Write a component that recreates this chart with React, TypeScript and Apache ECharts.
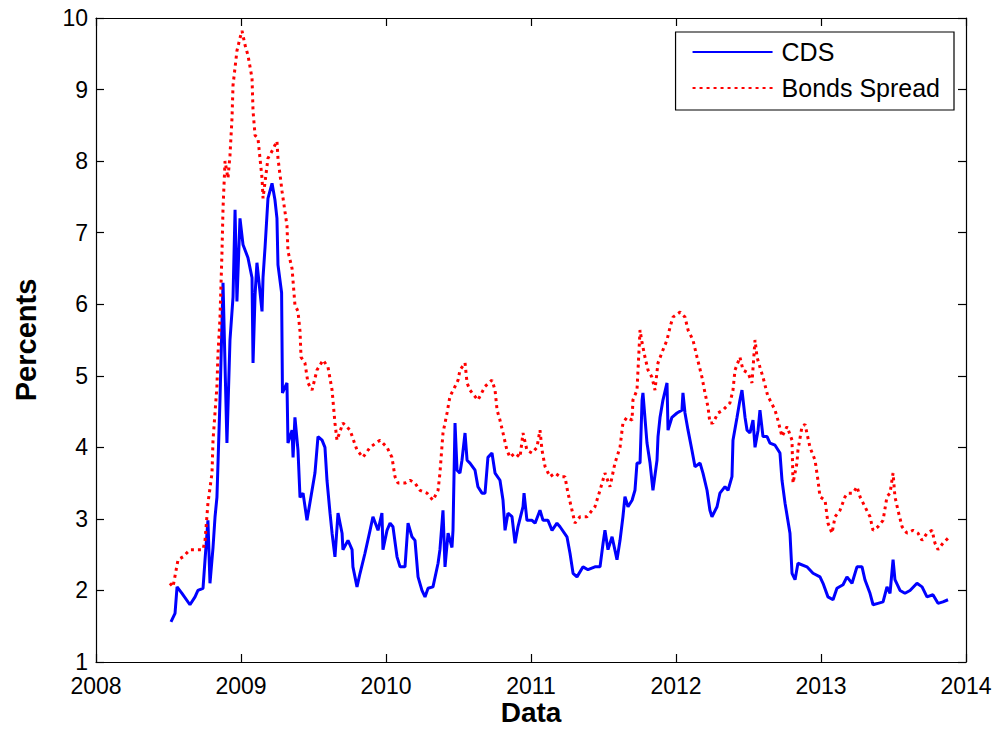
import React, { useEffect, useRef } from "react";
import * as echarts from "echarts";

const seriesNames = ["CDS", "Bonds Spread"];
const xRange = [2008, 2014];
const yRange = [1, 10];

const cdsYears = [
  2008.517, 2008.545, 2008.559, 2008.593, 2008.648, 2008.683, 2008.703, 2008.738, 2008.752, 2008.772,
  2008.786, 2008.807, 2008.821, 2008.834, 2008.855, 2008.876, 2008.903, 2008.924, 2008.945, 2008.959,
  2008.972, 2008.993, 2009.014, 2009.048, 2009.076, 2009.083, 2009.097, 2009.11, 2009.145, 2009.152,
  2009.166, 2009.186, 2009.214, 2009.234, 2009.248, 2009.255, 2009.28, 2009.286, 2009.317, 2009.324,
  2009.352, 2009.359, 2009.372, 2009.393, 2009.407, 2009.428, 2009.455, 2009.49, 2009.51, 2009.531,
  2009.559, 2009.579, 2009.593, 2009.614, 2009.628, 2009.648, 2009.669, 2009.697, 2009.703, 2009.738,
  2009.766, 2009.772, 2009.8, 2009.821, 2009.855, 2009.89, 2009.91, 2009.945, 2009.972, 2009.979,
  2010.007, 2010.028, 2010.048, 2010.076, 2010.097, 2010.131, 2010.152, 2010.179, 2010.2, 2010.221,
  2010.248, 2010.269, 2010.29, 2010.324, 2010.359, 2010.372, 2010.393, 2010.407, 2010.428, 2010.455,
  2010.462, 2010.476, 2010.49, 2010.51, 2010.524, 2010.545, 2010.559, 2010.579, 2010.614, 2010.634,
  2010.662, 2010.683, 2010.703, 2010.731, 2010.752, 2010.786, 2010.807, 2010.821, 2010.841, 2010.869,
  2010.89, 2010.91, 2010.945, 2010.952, 2010.972, 2011.007, 2011.028, 2011.062, 2011.083, 2011.117,
  2011.145, 2011.179, 2011.2, 2011.248, 2011.269, 2011.29, 2011.317, 2011.359, 2011.393, 2011.441,
  2011.476, 2011.497, 2011.51, 2011.531, 2011.559, 2011.593, 2011.614, 2011.634, 2011.648, 2011.669,
  2011.697, 2011.717, 2011.731, 2011.752, 2011.766, 2011.772, 2011.8, 2011.821, 2011.841, 2011.869,
  2011.876, 2011.89, 2011.91, 2011.938, 2011.945, 2011.972, 2012.007, 2012.041, 2012.048, 2012.062,
  2012.083, 2012.11, 2012.131, 2012.166, 2012.186, 2012.214, 2012.234, 2012.248, 2012.283, 2012.303,
  2012.338, 2012.359, 2012.386, 2012.393, 2012.421, 2012.441, 2012.455, 2012.476, 2012.49, 2012.51,
  2012.531, 2012.545, 2012.566, 2012.579, 2012.6, 2012.628, 2012.648, 2012.683, 2012.717, 2012.731,
  2012.752, 2012.786, 2012.8, 2012.821, 2012.841, 2012.903, 2012.945, 2012.993, 2013.014, 2013.048,
  2013.083, 2013.11, 2013.152, 2013.179, 2013.214, 2013.248, 2013.283, 2013.303, 2013.338, 2013.359,
  2013.393, 2013.428, 2013.455, 2013.476, 2013.497, 2013.51, 2013.545, 2013.579, 2013.614, 2013.662,
  2013.697, 2013.731, 2013.772, 2013.807, 2013.841, 2013.876,
];
const cdsValues = [
  1.56, 1.68, 2.05, 1.96, 1.8, 1.91, 2.0, 2.03, 2.43, 2.98,
  2.1, 2.6, 3.03, 3.3, 4.66, 6.3, 4.06, 5.5, 6.1, 7.32,
  6.04, 7.2, 6.83, 6.65, 6.37, 5.18, 6.13, 6.58, 5.9, 6.38,
  6.8, 7.48, 7.69, 7.46, 7.2, 6.55, 6.16, 4.76, 4.9, 4.06,
  4.24, 3.86, 4.42, 3.96, 3.3, 3.36, 2.98, 3.4, 3.64, 4.15,
  4.1, 4.0, 3.54, 3.08, 2.8, 2.47, 3.08, 2.8, 2.57, 2.7,
  2.57, 2.33, 2.05, 2.24, 2.52, 2.84, 3.03, 2.84, 3.08, 2.57,
  2.84, 2.94, 2.89, 2.47, 2.33, 2.33, 2.94, 2.75, 2.7, 2.19,
  2.0, 1.91, 2.03, 2.05, 2.38, 2.57, 3.12, 2.33, 2.8, 2.6,
  2.84, 4.34, 3.68, 3.64, 3.82, 4.2, 3.82, 3.78, 3.68, 3.45,
  3.36, 3.36, 3.86, 3.92, 3.64, 3.54, 3.26, 2.84, 3.08, 3.03,
  2.66, 2.89, 3.17, 3.36, 2.98, 2.98, 2.94, 3.12, 2.98, 2.98,
  2.84, 2.94, 2.89, 2.75, 2.52, 2.24, 2.19, 2.33, 2.29, 2.33,
  2.33, 2.66, 2.84, 2.57, 2.75, 2.43, 2.7, 3.03, 3.31, 3.17,
  3.26, 3.4, 3.78, 3.78, 4.66, 4.76, 4.06, 3.78, 3.4, 3.82,
  4.15, 4.42, 4.66, 4.9, 4.24, 4.42, 4.48, 4.52, 4.76, 4.48,
  4.24, 3.96, 3.73, 3.78, 3.64, 3.4, 3.12, 3.03, 3.17, 3.36,
  3.45, 3.4, 3.59, 4.1, 4.42, 4.66, 4.8, 4.42, 4.24, 4.2,
  4.38, 4.0, 4.24, 4.52, 4.15, 4.15, 4.06, 4.03, 3.92, 3.54,
  3.22, 2.8, 2.24, 2.15, 2.38, 2.33, 2.24, 2.19, 2.1, 1.91,
  1.87, 2.03, 2.08, 2.19, 2.1, 2.33, 2.33, 2.15, 1.96, 1.8,
  1.82, 1.84, 2.05, 1.96, 2.43, 2.15, 2.0, 1.96, 2.0, 2.1,
  2.05, 1.91, 1.94, 1.82, 1.84, 1.87,
];

const bondYears = [
  2008.51, 2008.531, 2008.566, 2008.6, 2008.648, 2008.738, 2008.752, 2008.772, 2008.8, 2008.807,
  2008.834, 2008.841, 2008.855, 2008.869, 2008.876, 2008.89, 2008.91, 2008.924, 2008.938, 2008.945,
  2008.972, 2008.993, 2009.007, 2009.028, 2009.048, 2009.076, 2009.083, 2009.097, 2009.117, 2009.145,
  2009.152, 2009.186, 2009.214, 2009.248, 2009.255, 2009.283, 2009.317, 2009.324, 2009.352, 2009.372,
  2009.393, 2009.407, 2009.414, 2009.441, 2009.462, 2009.49, 2009.524, 2009.566, 2009.6, 2009.628,
  2009.648, 2009.662, 2009.703, 2009.752, 2009.8, 2009.841, 2009.89, 2009.959, 2010.007, 2010.041,
  2010.062, 2010.083, 2010.131, 2010.166, 2010.2, 2010.234, 2010.283, 2010.324, 2010.359, 2010.372,
  2010.393, 2010.421, 2010.441, 2010.476, 2010.497, 2010.51, 2010.545, 2010.559, 2010.579, 2010.614,
  2010.634, 2010.683, 2010.731, 2010.752, 2010.766, 2010.786, 2010.807, 2010.834, 2010.855, 2010.89,
  2010.924, 2010.945, 2010.972, 2011.007, 2011.041, 2011.062, 2011.076, 2011.097, 2011.131, 2011.166,
  2011.2, 2011.234, 2011.255, 2011.283, 2011.303, 2011.338, 2011.386, 2011.441, 2011.476, 2011.51,
  2011.545, 2011.579, 2011.614, 2011.634, 2011.662, 2011.697, 2011.703, 2011.731, 2011.752, 2011.766,
  2011.786, 2011.807, 2011.834, 2011.855, 2011.876, 2011.91, 2011.938, 2011.959, 2011.979, 2012.028,
  2012.062, 2012.083, 2012.117, 2012.145, 2012.179, 2012.2, 2012.221, 2012.234, 2012.255, 2012.29,
  2012.324, 2012.372, 2012.393, 2012.407, 2012.441, 2012.462, 2012.497, 2012.524, 2012.545, 2012.559,
  2012.579, 2012.6, 2012.634, 2012.648, 2012.683, 2012.703, 2012.731, 2012.766, 2012.8, 2012.807,
  2012.834, 2012.841, 2012.869, 2012.89, 2012.924, 2012.959, 2012.979, 2012.993, 2013.028, 2013.048,
  2013.076, 2013.097, 2013.131, 2013.166, 2013.186, 2013.221, 2013.248, 2013.269, 2013.303, 2013.338,
  2013.359, 2013.393, 2013.428, 2013.455, 2013.476, 2013.497, 2013.51, 2013.531, 2013.559, 2013.593,
  2013.634, 2013.669, 2013.697, 2013.731, 2013.766, 2013.786, 2013.807, 2013.841, 2013.876,
];
const bondValues = [
  2.1, 2.05, 2.43, 2.47, 2.57, 2.57, 2.7, 3.22, 3.64, 4.1,
  4.85, 5.3, 5.8, 6.74, 7.34, 8.0, 7.76, 8.08, 8.6, 9.06,
  9.54, 9.72, 9.82, 9.62, 9.48, 9.16, 8.7, 8.36, 8.32, 7.76,
  7.48, 8.04, 8.14, 8.28, 8.04, 7.58, 7.1, 6.74, 6.5, 5.99,
  5.9, 5.62, 5.26, 5.18, 4.9, 4.8, 5.08, 5.22, 5.12, 4.8,
  4.34, 4.1, 4.34, 4.24, 3.96, 3.86, 4.0, 4.1, 4.0, 3.86,
  3.59, 3.5, 3.5, 3.54, 3.5, 3.4, 3.36, 3.26, 3.4, 3.64,
  4.2, 4.48, 4.71, 4.85, 4.94, 5.08, 5.18, 4.9, 4.8, 4.71,
  4.66, 4.85, 4.94, 4.8, 4.52, 4.38, 4.2, 3.96, 3.86, 3.92,
  3.86, 4.2, 3.96, 3.92, 4.0, 4.24, 3.96, 3.73, 3.59, 3.64,
  3.59, 3.59, 3.36, 3.12, 2.94, 3.03, 3.03, 3.17, 3.4, 3.64,
  3.45, 3.78, 4.0, 4.34, 4.42, 4.38, 4.66, 4.8, 5.64, 5.46,
  5.26, 5.08, 4.98, 4.8, 5.18, 5.36, 5.5, 5.68, 5.82, 5.89,
  5.82, 5.64, 5.5, 5.26, 4.98, 4.76, 4.56, 4.34, 4.34, 4.48,
  4.52, 4.62, 4.8, 5.08, 5.26, 5.08, 5.04, 4.9, 5.5, 5.26,
  5.12, 4.98, 4.71, 4.66, 4.52, 4.38, 4.15, 4.29, 4.1, 3.5,
  3.78, 3.96, 4.29, 4.32, 4.0, 3.82, 3.54, 3.31, 3.26, 2.94,
  2.8, 3.03, 3.12, 3.31, 3.36, 3.36, 3.45, 3.31, 3.17, 3.03,
  2.84, 2.89, 2.98, 3.31, 3.36, 3.64, 3.31, 3.12, 2.89, 2.8,
  2.84, 2.8, 2.7, 2.8, 2.84, 2.66, 2.57, 2.66, 2.73,
];

const FONT = "Liberation Sans, Arial, Helvetica, sans-serif";

export default function App() {
  const ref = useRef<HTMLDivElement>(null);

  useEffect(() => {
    if (!ref.current) return;
    const chart = echarts.init(ref.current, undefined, { renderer: "svg" });
    const cdsData = cdsYears.map((x, i) => [x, cdsValues[i]]);
    const bondData = bondYears.map((x, i) => [x, bondValues[i]]);

    const axisLine = { show: true, lineStyle: { color: "#000", width: 1.2 } };
    const axisTick = { show: true, inside: true, length: 8, lineStyle: { color: "#000", width: 1.2 } };

    chart.setOption({
      animation: false,
      backgroundColor: "#fff",
      grid: {
        left: 96,
        right: 26,
        top: 18,
        bottom: 67,
        containLabel: false,
        outerBoundsMode: "none",
      },
      legend: {
        right: 38,
        top: 32,
        orient: "vertical",
        align: "left",
        data: seriesNames,
        itemWidth: 80,
        itemHeight: 2,
        itemGap: 10,
        padding: [7, 14, 9, 16],
        borderColor: "#000",
        borderWidth: 1.2,
        backgroundColor: "#fff",
        itemStyle: { opacity: 0 },
        textStyle: { color: "#000", fontSize: 25, fontFamily: FONT, lineHeight: 26, padding: [0, 0, 0, 4] },
      },
      xAxis: [
        {
          type: "value",
          min: xRange[0],
          max: xRange[1],
          interval: 1,
          position: "bottom",
          name: "Data",
          nameLocation: "middle",
          nameGap: 36,
          nameMoveOverlap: false,
          nameTextStyle: { color: "#000", fontSize: 28, fontWeight: "bold", fontFamily: FONT },
          axisLine,
          axisTick,
          splitLine: { show: false },
          axisLabel: {
            color: "#000",
            fontSize: 23,
            fontFamily: FONT,
            margin: 12,
            formatter: (v: number) => String(v),
          },
        },
        {
          type: "value",
          min: xRange[0],
          max: xRange[1],
          interval: 1,
          position: "top",
          axisLine,
          axisTick,
          splitLine: { show: false },
          axisLabel: { show: false },
        },
      ],
      yAxis: [
        {
          type: "value",
          min: yRange[0],
          max: yRange[1],
          interval: 1,
          position: "left",
          name: "Percents",
          nameLocation: "middle",
          nameGap: 56,
          nameMoveOverlap: false,
          nameTextStyle: { color: "#000", fontSize: 29, fontWeight: "bold", fontFamily: FONT },
          axisLine,
          axisTick,
          splitLine: { show: false },
          axisLabel: { color: "#000", fontSize: 23, fontFamily: FONT, margin: 8 },
        },
        {
          type: "value",
          min: yRange[0],
          max: yRange[1],
          interval: 1,
          position: "right",
          axisLine,
          axisTick,
          splitLine: { show: false },
          axisLabel: { show: false },
        },
      ],
      series: [
        {
          name: seriesNames[0],
          type: "line",
          data: cdsData,
          symbol: "none",
          showSymbol: false,
          lineStyle: { color: "#0000ff", width: 3 },
          itemStyle: { color: "#0000ff" },
          z: 2,
        },
        {
          name: seriesNames[1],
          type: "line",
          data: bondData,
          symbol: "none",
          showSymbol: false,
          lineStyle: { color: "#ff0000", width: 3, type: [3, 4] },
          itemStyle: { color: "#ff0000" },
          z: 3,
        },
      ],
    });
    return () => chart.dispose();
  }, []);

  return (
    <div
      ref={ref}
      style={{ position: "fixed", left: 0, top: 0, width: 992, height: 729, background: "#fff" }}
    />
  );
}
